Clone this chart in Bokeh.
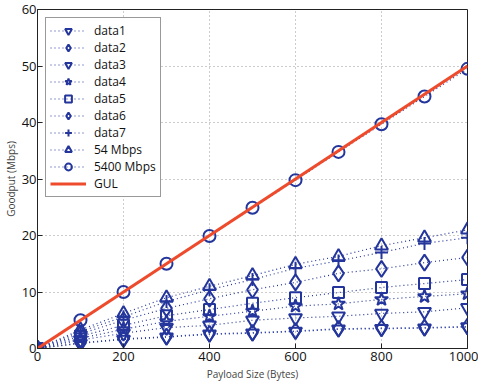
from bokeh.plotting import figure
from bokeh.models import Legend, LegendItem, FixedTicker, Range1d
from bokeh.embed import file_html
from bokeh.resources import INLINE

payload = [0, 100, 200, 300, 400, 500, 600, 700, 800, 900, 1000]
data1 = [0, 0.9, 1.6, 2.0, 2.5, 2.7, 3.0, 3.4, 3.5, 3.6, 3.8]
data2 = [0, 1.0, 1.7, 2.1, 2.6, 2.8, 3.1, 3.5, 3.6, 3.7, 3.9]
data3 = [0, 1.5, 2.7, 3.7, 4.1, 5.0, 5.4, 5.7, 6.2, 6.5, 7.2]
data4 = [0, 1.8, 3.4, 4.8, 5.7, 6.6, 7.5, 7.9, 8.7, 9.2, 9.7]
data5 = [0, 2.2, 4.1, 5.8, 6.9, 8.0, 9.0, 9.9, 10.8, 11.5, 12.2]
data6 = [0, 2.6, 5.0, 7.1, 8.8, 10.4, 11.7, 13.3, 14.1, 15.2, 16.1]
data7 = [0, 3.0, 5.6, 8.3, 10.4, 12.2, 14.2, 15.5, 17.0, 18.6, 19.6]
mbps54 = [0, 3.3, 6.2, 9.0, 11.0, 12.9, 14.9, 16.3, 18.2, 19.6, 21.0]
mbps5400 = [0, 5.0, 10.0, 15.0, 19.9, 24.9, 29.8, 34.8, 39.7, 44.6, 49.5]
gul_x = [0, 1000]
gul_y = [0, 50]

series_names = ["data1", "data2", "data3", "data4", "data5", "data6", "data7", "54 Mbps", "5400 Mbps"]
series_vals = [data1, data2, data3, data4, data5, data6, data7, mbps54, mbps5400]
markers = ["inverted_triangle", "diamond", "inverted_triangle", "star", "square", "diamond", "cross", "triangle", "circle"]
msizes = [13, 16, 13, 14, 11, 16, 13, 13, 12]

BLUE = "#24369c"
RED = "#ee4a2c"
FONT = "Open Sans"

p = figure(width=478, height=386, output_backend="svg", toolbar_location=None,
           x_range=Range1d(0, 1000), y_range=Range1d(0, 60),
           min_border_left=2, min_border_right=11, min_border_top=9, min_border_bottom=38)

items = []
for name, vals, mk, ms in zip(series_names, series_vals, markers, msizes):
    r1 = p.line(payload, vals, line_color=BLUE, line_width=1.2, line_dash="1 3")
    r2 = p.scatter(payload, vals, marker=mk, size=ms, line_color=BLUE, line_width=2,
                   fill_alpha=0)
    items.append(LegendItem(label=name, renderers=[r1, r2]))
rg = p.line(gul_x, gul_y, line_color=RED, line_width=3)
items.append(LegendItem(label="GUL", renderers=[rg]))

legend = Legend(items=items, location="top_left")
legend.label_text_font = FONT
legend.label_text_font_size = "12px"
legend.label_text_color = "#111111"
legend.glyph_width = 36
legend.glyph_height = 17
legend.label_height = 17
legend.spacing = 0
legend.padding = 4
legend.margin = 8
legend.label_standoff = 8
legend.border_line_color = "#333333"
legend.border_line_width = 1
legend.background_fill_alpha = 1
p.add_layout(legend)

p.outline_line_color = "#222222"
p.outline_line_width = 1
p.background_fill_color = "white"

p.xaxis.ticker = FixedTicker(ticks=[0, 200, 400, 600, 800, 1000])
p.yaxis.ticker = FixedTicker(ticks=[0, 10, 20, 30, 40, 50, 60])
p.xaxis.axis_label = "Payload Size (Bytes)"
p.yaxis.axis_label = "Goodput (Mbps)"
for ax in [p.xaxis[0], p.yaxis[0]]:
    ax.axis_label_text_font = FONT
    ax.axis_label_text_font_size = "10px"
    ax.axis_label_text_font_style = "normal"
    ax.major_label_text_font = FONT
    ax.major_label_text_font_size = "13px"
    ax.major_label_text_color = "#111111"
    ax.major_tick_in = 5
    ax.major_tick_out = 0
    ax.minor_tick_in = 0
    ax.minor_tick_out = 0
    ax.axis_line_color = "#222222"
    ax.major_tick_line_color = "#222222"
p.xaxis.major_label_standoff = 3
p.xaxis.axis_label_standoff = 3
p.yaxis.major_label_standoff = 1
p.yaxis.axis_label_standoff = 1

p.xgrid.grid_line_color = "#9a9a9a"
p.ygrid.grid_line_color = "#9a9a9a"
p.xgrid.grid_line_dash = "1 3"
p.ygrid.grid_line_dash = "1 3"
p.xgrid.grid_line_width = 1
p.ygrid.grid_line_width = 1

open("out.html", "w").write(file_html(p, INLINE))
